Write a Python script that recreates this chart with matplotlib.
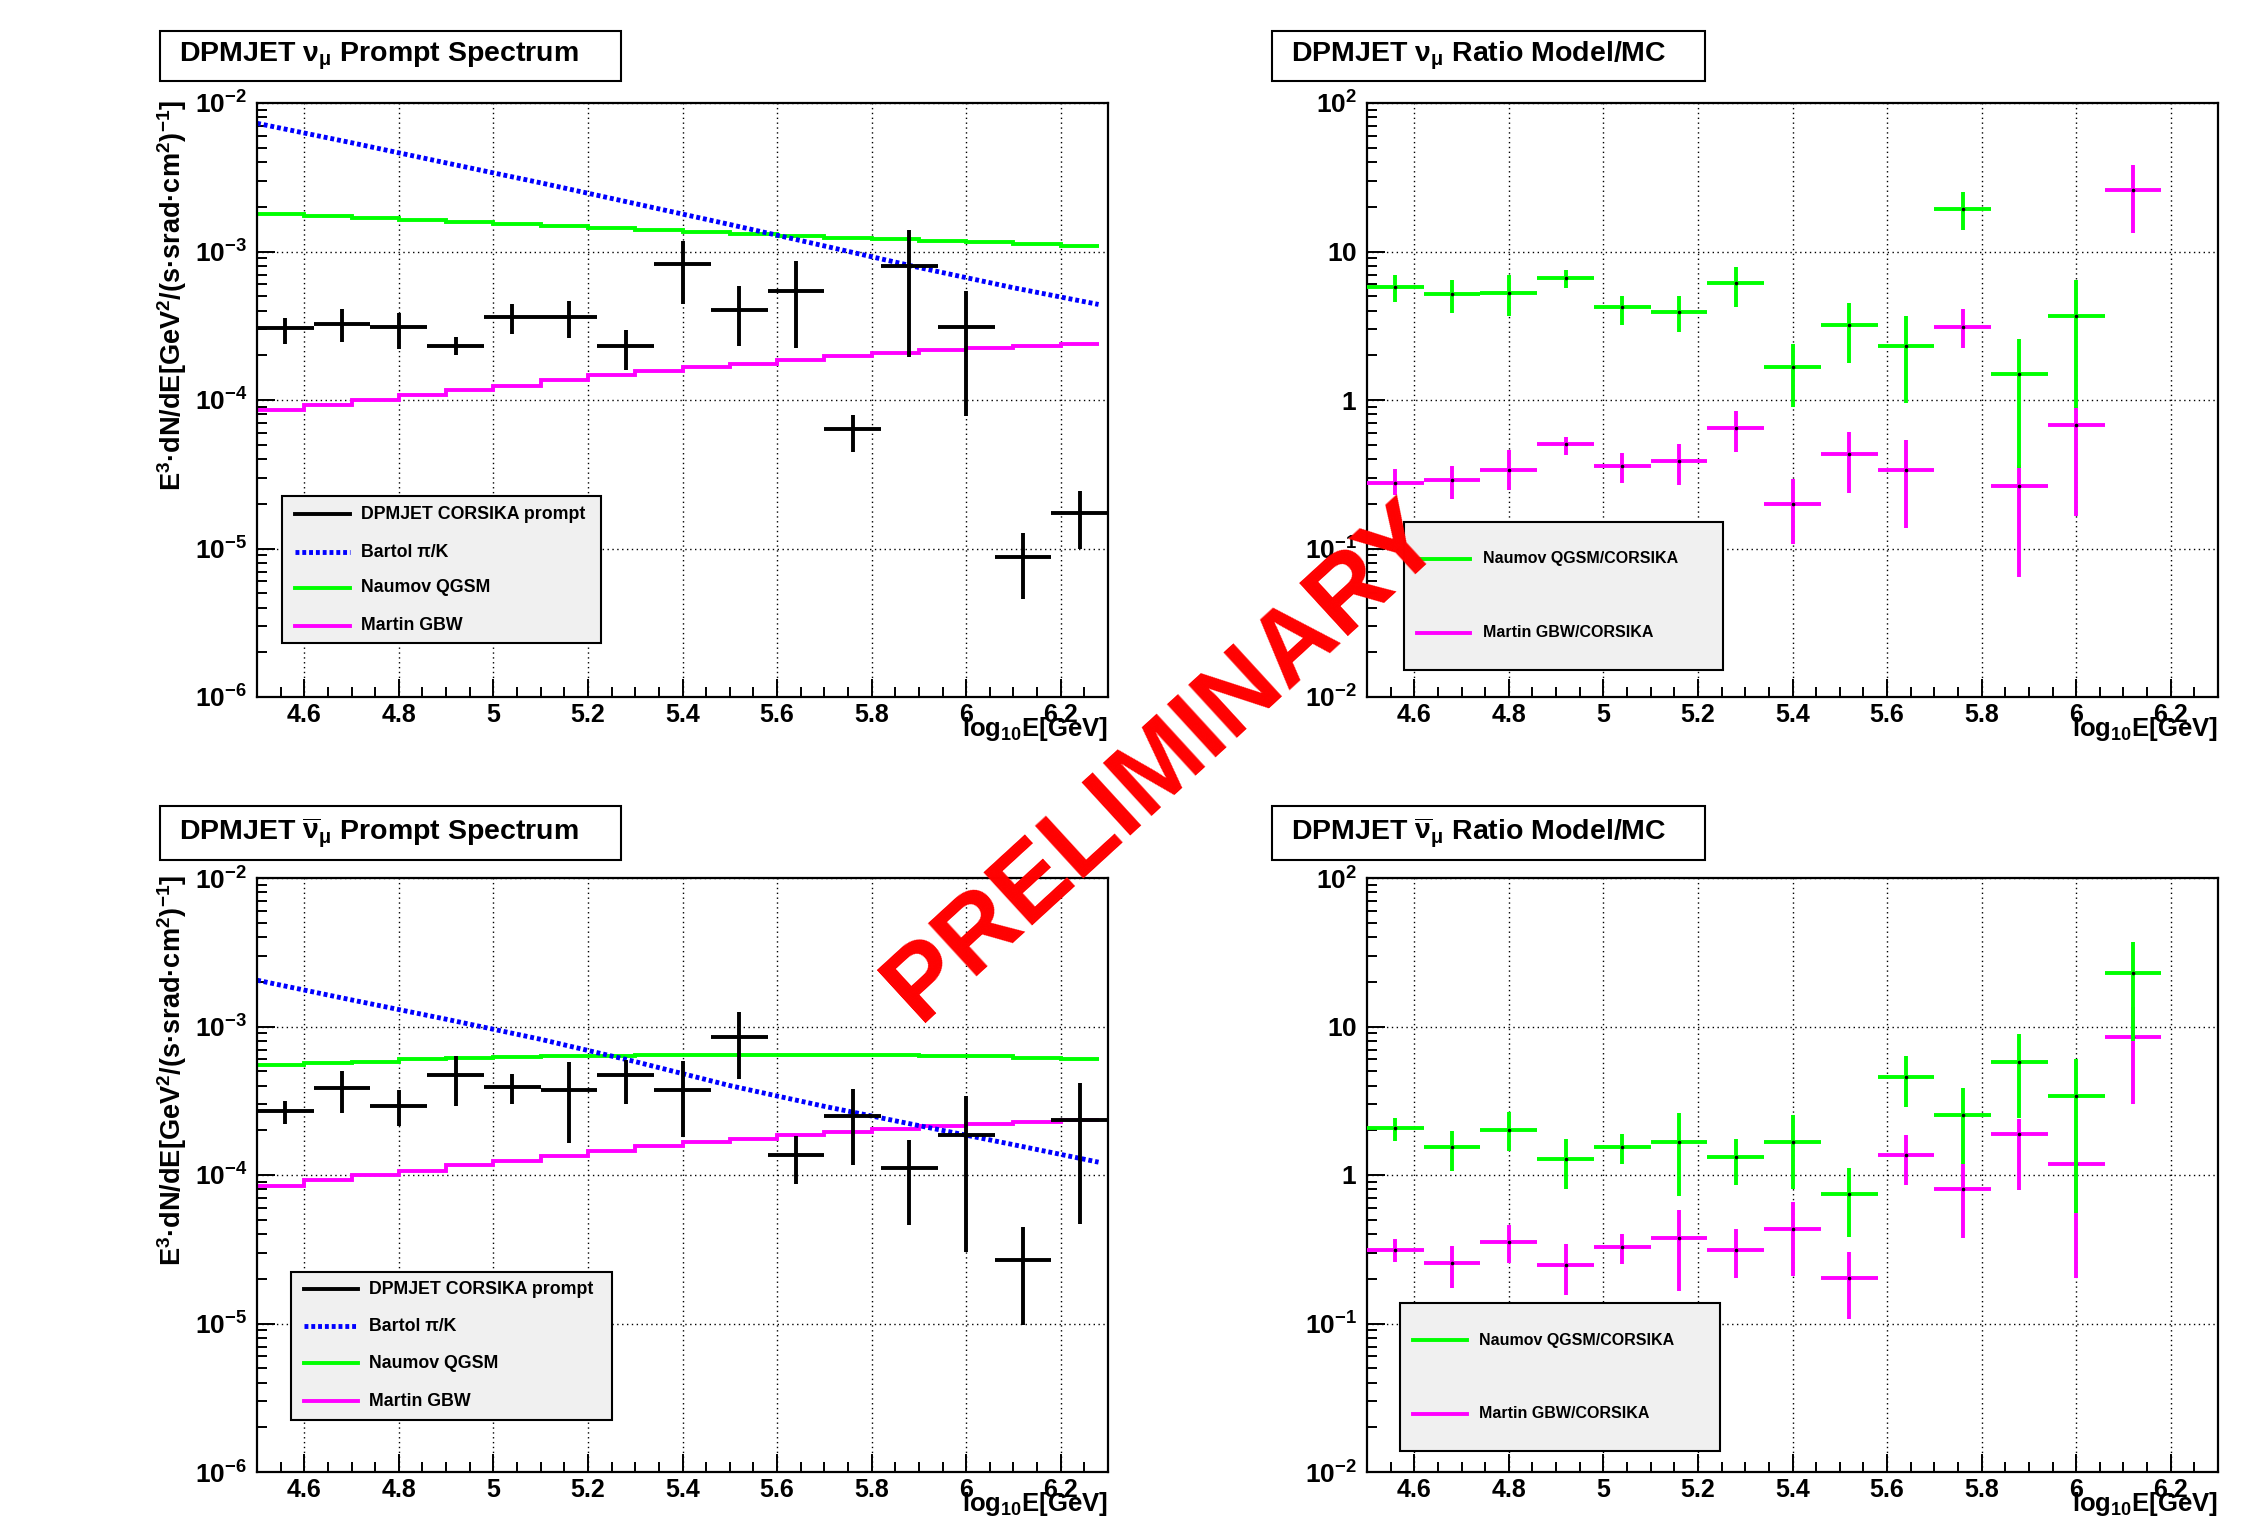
import matplotlib
matplotlib.use('Agg')
import matplotlib.pyplot as plt
from matplotlib.patches import Rectangle
from matplotlib.lines import Line2D
from matplotlib.ticker import FixedLocator, FixedFormatter, MultipleLocator, LogLocator, NullFormatter
import numpy as np

plt.rcParams['font.family'] = ['Liberation Sans', 'DejaVu Sans']
plt.rcParams['font.weight'] = 'bold'
plt.rcParams['mathtext.fontset'] = 'custom'
plt.rcParams['mathtext.rm'] = 'Liberation Sans:bold'
plt.rcParams['mathtext.it'] = 'Liberation Sans:bold'
plt.rcParams['mathtext.bf'] = 'Liberation Sans:bold'
plt.rcParams['mathtext.default'] = 'rm'

W, H = 2256, 1529

# energy bins (log10 E / GeV), width 0.12
bin_centers = [4.56, 4.68, 4.80, 4.92, 5.04, 5.16, 5.28, 5.40, 5.52, 5.64, 5.76, 5.88, 6.00, 6.12, 6.24]
half_width = 0.06

# DPMJET CORSIKA prompt, nu_mu
numu_flux = [3.04e-4, 3.27e-4, 3.10e-4, 2.30e-4, 3.60e-4, 3.60e-4, 2.30e-4, 8.2e-4, 4.05e-4, 5.42e-4, 6.34e-5, 7.96e-4, 3.10e-4, 8.8e-6, 1.74e-5]
numu_hi = [3.55e-4, 4.1e-4, 3.87e-4, 2.65e-4, 4.4e-4, 4.63e-4, 2.98e-4, 1.17e-3, 5.9e-4, 8.6e-4, 7.96e-5, 1.39e-3, 5.39e-4, 1.28e-5, 2.45e-5]
numu_lo = [2.4e-4, 2.45e-4, 2.19e-4, 2.01e-4, 2.77e-4, 2.6e-4, 1.58e-4, 4.44e-4, 2.32e-4, 2.25e-4, 4.44e-5, 1.94e-4, 7.75e-5, 4.6e-6, 1.0e-5]

# DPMJET CORSIKA prompt, nu_mu bar
nubar_flux = [2.71e-4, 3.83e-4, 2.91e-4, 4.75e-4, 3.94e-4, 3.75e-4, 4.72e-4, 3.75e-4, 8.47e-4, 1.36e-4, 2.48e-4, 1.11e-4, 1.85e-4, 2.69e-5, 2.33e-4]
nubar_hi = [3.13e-4, 5.0e-4, 3.75e-4, 6.3e-4, 4.82e-4, 5.78e-4, 5.99e-4, 5.86e-4, 1.26e-3, 1.82e-4, 3.80e-4, 1.72e-4, 3.43e-4, 4.45e-5, 4.18e-4]
nubar_lo = [2.21e-4, 2.61e-4, 2.13e-4, 2.91e-4, 3.02e-4, 1.63e-4, 3.02e-4, 1.79e-4, 4.42e-4, 8.7e-5, 1.16e-4, 4.62e-5, 3.04e-5, 9.8e-6, 4.69e-5]

# model histograms
model_edges = [4.5, 4.6, 4.7, 4.8, 4.9, 5.0, 5.1, 5.2, 5.3, 5.4, 5.5, 5.6, 5.7, 5.8, 5.9, 6.0, 6.1, 6.2, 6.28]
numu_naumov_model = [1.79e-3, 1.74e-3, 1.69e-3, 1.63e-3, 1.57e-3, 1.53e-3, 1.48e-3, 1.43e-3, 1.39e-3,
                     1.35e-3, 1.31e-3, 1.28e-3, 1.24e-3, 1.21e-3, 1.18e-3, 1.15e-3, 1.12e-3, 1.09e-3]
numu_martin_model = [8.5e-5, 9.3e-5, 1.0e-4, 1.08e-4, 1.17e-4, 1.25e-4, 1.36e-4, 1.47e-4, 1.57e-4,
                     1.67e-4, 1.76e-4, 1.86e-4, 1.97e-4, 2.06e-4, 2.16e-4, 2.24e-4, 2.31e-4, 2.37e-4]
nubar_naumov_model = [5.5e-4, 5.7e-4, 5.8e-4, 6.0e-4, 6.1e-4, 6.25e-4, 6.3e-4, 6.35e-4, 6.4e-4,
                      6.4e-4, 6.45e-4, 6.45e-4, 6.45e-4, 6.45e-4, 6.35e-4, 6.3e-4, 6.1e-4, 6.05e-4]
nubar_martin_model = [8.4e-5, 9.2e-5, 1.0e-4, 1.07e-4, 1.16e-4, 1.24e-4, 1.35e-4, 1.46e-4, 1.56e-4,
                      1.66e-4, 1.75e-4, 1.85e-4, 1.95e-4, 2.04e-4, 2.13e-4, 2.21e-4, 2.28e-4, 2.34e-4]

bartol_x = [4.5, 4.7, 4.9, 5.1, 5.3, 5.5, 5.7, 5.9, 6.1, 6.28]
numu_bartol = [7.3e-3, 5.4e-3, 3.95e-3, 2.9e-3, 2.1e-3, 1.52e-3, 1.09e-3, 7.8e-4, 5.7e-4, 4.4e-4]
nubar_bartol = [2.05e-3, 1.51e-3, 1.12e-3, 8.2e-4, 5.8e-4, 4.0e-4, 2.9e-4, 2.15e-4, 1.6e-4, 1.22e-4]

# ratios model / MC
numu_ratio_naumov = [5.75, 5.15, 5.27, 6.67, 4.2, 3.93, 6.1, 1.67, 3.2, 2.31, 19.4, 1.5, 3.67]
numu_ratio_naumov_hi = [6.9, 6.4, 6.9, 7.45, 5.05, 5.05, 7.9, 2.38, 4.5, 3.7, 25.1, 2.56, 6.43]
numu_ratio_naumov_lo = [4.55, 3.85, 3.7, 5.68, 3.2, 2.86, 4.2, 0.9, 1.77, 0.95, 13.9, 0.35, 0.88]
numu_ratio_martin = [0.278, 0.288, 0.339, 0.508, 0.36, 0.387, 0.649, 0.198, 0.43, 0.339, 3.08, 0.264, 0.683, 26.0]
numu_ratio_martin_hi = [0.341, 0.36, 0.458, 0.567, 0.438, 0.508, 0.845, 0.292, 0.611, 0.538, 4.07, 0.367, 0.895, 38.1]
numu_ratio_martin_lo = [0.231, 0.215, 0.249, 0.426, 0.276, 0.268, 0.446, 0.107, 0.238, 0.138, 2.24, 0.064, 0.165, 13.4]

nubar_ratio_naumov = [2.07, 1.54, 2.01, 1.29, 1.54, 1.68, 1.33, 1.68, 0.74, 4.58, 2.53, 5.78, 3.41, 23.1]
nubar_ratio_naumov_hi = [2.42, 1.99, 2.65, 1.76, 1.89, 2.61, 1.76, 2.52, 1.11, 6.3, 3.88, 8.9, 6.08, 36.9]
nubar_ratio_naumov_lo = [1.69, 1.06, 1.45, 0.81, 1.18, 0.72, 0.85, 0.81, 0.385, 2.85, 1.18, 2.43, 0.553, 8.0]
nubar_ratio_martin = [0.315, 0.256, 0.356, 0.248, 0.327, 0.377, 0.315, 0.435, 0.201, 1.36, 0.81, 1.89, 1.18, 8.47]
nubar_ratio_martin_hi = [0.372, 0.334, 0.462, 0.341, 0.4, 0.582, 0.435, 0.653, 0.304, 1.85, 1.18, 2.38, 2.0, 13.5]
nubar_ratio_martin_lo = [0.259, 0.174, 0.256, 0.156, 0.25, 0.166, 0.204, 0.209, 0.107, 0.853, 0.377, 0.794, 0.201, 3.02]

x_ticks = [4.6, 4.8, 5.0, 5.2, 5.4, 5.6, 5.8, 6.0, 6.2]
x_ticklabels = ['4.6', '4.8', '5', '5.2', '5.4', '5.6', '5.8', '6', '6.2']

GREEN = '#00ff00'
MAGENTA = '#ff00ff'
BLUE = '#0000ff'


def crosses(ax, y, hi, lo, color, dot=False, z=3):
    x = bin_centers[:len(y)]
    y = np.array(y)
    yerr = [y - np.array(lo), np.array(hi) - y]
    ax.errorbar(x, y, xerr=half_width, yerr=yerr, fmt='none', ecolor=color,
                elinewidth=2.8, capsize=0, zorder=z)
    if dot:
        ax.plot(x, y, 'o', ms=1.6, color='black', zorder=z + 0.1)


def style_axes(ax, ylo, yhi, yticklabels):
    ax.set_xlim(4.5, 6.3)
    ax.set_yscale('log')
    ax.set_ylim(ylo, yhi)
    ax.xaxis.set_major_locator(FixedLocator(x_ticks))
    ax.xaxis.set_major_formatter(FixedFormatter(x_ticklabels))
    ax.xaxis.set_minor_locator(MultipleLocator(0.05))
    decades = [10.0 ** k for k in range(int(round(np.log10(ylo))), int(round(np.log10(yhi))) + 1)]
    ax.yaxis.set_major_locator(FixedLocator(decades))
    ax.yaxis.set_major_formatter(FixedFormatter(yticklabels))
    ax.yaxis.set_minor_locator(LogLocator(base=10, subs=np.arange(2, 10)))
    ax.yaxis.set_minor_formatter(NullFormatter())
    ax.tick_params(which='both', direction='in', top=False, right=False, width=1.4)
    ax.tick_params(which='major', length=13)
    ax.tick_params(which='minor', length=7)
    ax.tick_params(axis='x', which='major', labelsize=18, pad=4)
    ax.tick_params(axis='y', which='major', labelsize=19, pad=7)
    for s in ax.spines.values():
        s.set_linewidth(1.6)
    ax.grid(True, which='major', color='black', ls=(0, (1, 2.5)), lw=1.0)
    ax.set_axisbelow(True)
    ax.text(1.0, -0.066, r'log$_{10}$E[GeV]', transform=ax.transAxes,
            ha='right', va='baseline', fontsize=18.5)


def legend_box(ax, box, rows, hx, tx, entries, fs):
    ax.add_patch(Rectangle((box[0], box[1]), box[2] - box[0], box[3] - box[1],
                           transform=ax.transAxes, facecolor='#f0f0f0',
                           edgecolor='black', lw=1.5, zorder=10))
    for (label, style), yy in zip(entries, rows):
        ax.add_line(Line2D(hx, [yy, yy], transform=ax.transAxes, zorder=11, **style))
        ax.text(tx, yy, label, transform=ax.transAxes, fontsize=fs,
                ha='left', va='center', zorder=11)


def title_box(fig, x0, y0, x1, y1, text):
    fig.add_artist(Rectangle((x0 / W, 1 - y1 / H), (x1 - x0) / W, (y1 - y0) / H,
                             transform=fig.transFigure, facecolor='white',
                             edgecolor='black', lw=1.5))
    fig.text((x0 + 19) / W, 1 - (y1 - 20) / H, text, fontsize=20.5, va='baseline')


spec_labels = [r'$10^{-6}$', r'$10^{-5}$', r'$10^{-4}$', r'$10^{-3}$', r'$10^{-2}$']
ratio_labels = [r'$10^{-2}$', r'$10^{-1}$', r'$1$', r'$10$', r'$10^{2}$']
ylabel = r'E$^{3}$·dN/dE[GeV$^{2}$/(s·srad·cm$^{2}$)$^{-1}$]'

spec_entries = [
    ('DPMJET CORSIKA prompt', dict(color='black', lw=2.8)),
    ('Bartol π/K', dict(color=BLUE, lw=3.5, ls=(0, (0.8, 0.6)))),
    ('Naumov QGSM', dict(color=GREEN, lw=2.8)),
    ('Martin GBW', dict(color=MAGENTA, lw=2.8)),
]
ratio_entries = [
    ('Naumov QGSM/CORSIKA', dict(color=GREEN, lw=2.8)),
    ('Martin GBW/CORSIKA', dict(color=MAGENTA, lw=2.8)),
]

fig = plt.figure(figsize=(W / 100, H / 100), dpi=100)
ax_w, ax_h = 851 / W, 594 / H
ax_tl = fig.add_axes([257 / W, 1 - 697 / H, ax_w, ax_h])
ax_tr = fig.add_axes([1367 / W, 1 - 697 / H, ax_w, ax_h])
ax_bl = fig.add_axes([257 / W, 1 - 1472 / H, ax_w, ax_h])
ax_br = fig.add_axes([1367 / W, 1 - 1472 / H, ax_w, ax_h])

# spectrum panels
for ax, flux, hi, lo, naumov, martin, bartol, leg in [
        (ax_tl, numu_flux, numu_hi, numu_lo, numu_naumov_model, numu_martin_model, numu_bartol,
         ((0.029, 0.091, 0.404, 0.339), [0.308, 0.244, 0.184, 0.120], [0.045, 0.109], 0.122)),
        (ax_bl, nubar_flux, nubar_hi, nubar_lo, nubar_naumov_model, nubar_martin_model, nubar_bartol,
         ((0.040, 0.088, 0.417, 0.337), [0.308, 0.245, 0.183, 0.119], [0.055, 0.119], 0.132))]:
    style_axes(ax, 1e-6, 1e-2, spec_labels)
    ax.stairs(naumov, model_edges, baseline=None, color=GREEN, lw=2.8, zorder=2)
    ax.stairs(martin, model_edges, baseline=None, color=MAGENTA, lw=2.8, zorder=2)
    ax.plot(bartol_x, bartol, color=BLUE, lw=3.5, ls=(0, (0.8, 0.6)), zorder=2.5)
    crosses(ax, flux, hi, lo, 'black')
    ax.text(-0.100, 1.005, ylabel, transform=ax.transAxes, rotation=90,
            ha='center', va='top', fontsize=19.5)
    legend_box(ax, leg[0], leg[1], leg[2], leg[3], spec_entries, 12.8)

# ratio panels
for ax, gv, gh, gl, mv, mh, ml, leg in [
        (ax_tr, numu_ratio_naumov, numu_ratio_naumov_hi, numu_ratio_naumov_lo,
         numu_ratio_martin, numu_ratio_martin_hi, numu_ratio_martin_lo,
         ((0.044, 0.045, 0.418, 0.295), [0.233, 0.108], [0.059, 0.121], 0.136)),
        (ax_br, nubar_ratio_naumov, nubar_ratio_naumov_hi, nubar_ratio_naumov_lo,
         nubar_ratio_martin, nubar_ratio_martin_hi, nubar_ratio_martin_lo,
         ((0.039, 0.035, 0.415, 0.285), [0.222, 0.098], [0.054, 0.117], 0.132))]:
    style_axes(ax, 1e-2, 1e2, ratio_labels)
    crosses(ax, mv, mh, ml, MAGENTA, dot=True, z=3)
    crosses(ax, gv, gh, gl, GREEN, dot=True, z=4)
    legend_box(ax, leg[0], leg[1], leg[2], leg[3], ratio_entries, 11.5)

title_box(fig, 160, 31, 621, 81, r'DPMJET $\nu_{\mu}$ Prompt Spectrum')
title_box(fig, 1272, 31, 1705, 81, r'DPMJET $\nu_{\mu}$ Ratio Model/MC')
title_box(fig, 160, 806, 621, 860, r'DPMJET $\overline{\nu}_{\mu}$ Prompt Spectrum')
title_box(fig, 1272, 806, 1705, 860, r'DPMJET $\overline{\nu}_{\mu}$ Ratio Model/MC')

fig.text(1164 / W, 1 - 762 / H, 'PRELIMINARY', rotation=42.5, rotation_mode='anchor',
         ha='center', va='center', color='#ff0000', fontsize=75, fontweight='bold', zorder=100)

fig.savefig('out.png', dpi=100)
